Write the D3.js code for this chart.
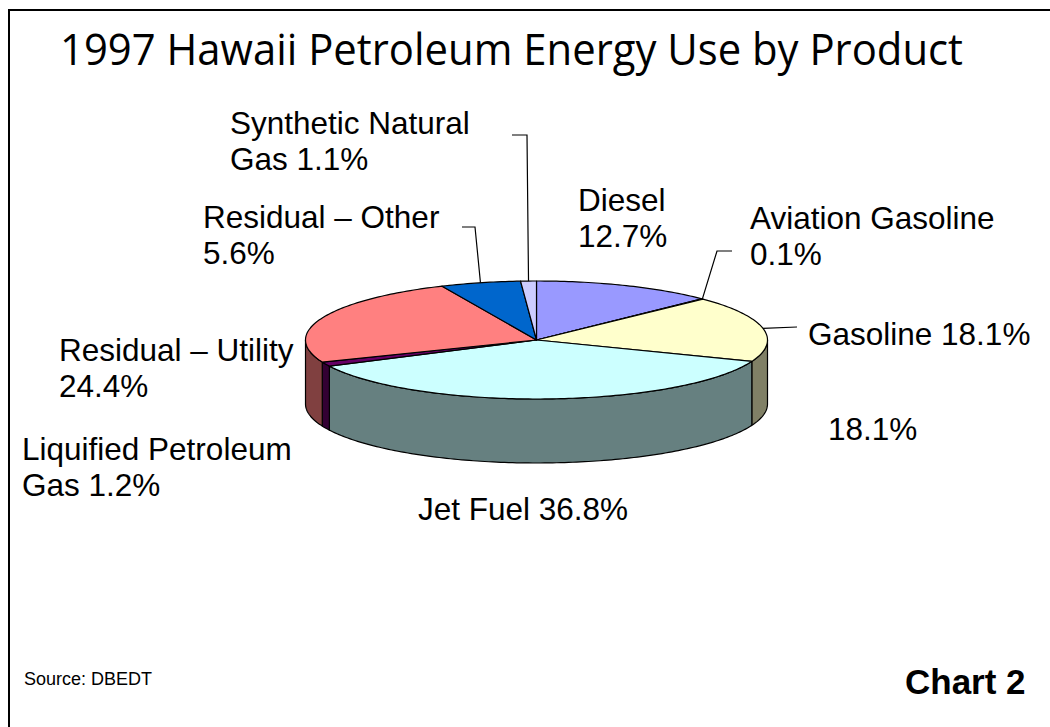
<!DOCTYPE html>
<html>
<head>
<meta charset="utf-8">
<script src="https://cdn.jsdelivr.net/npm/d3@7"></script>
<style>
  body { margin: 0; background: #fff; }
  svg { display: block; }
  .label { font-family: "Liberation Sans", Arial, sans-serif; font-size: 31.5px; fill: #000; }
</style>
</head>
<body>
<svg id="chart"></svg>
<script>
// Products in pie order (clockwise from 12 o'clock) and their shares (%)
const products = ['Diesel', 'Aviation Gasoline', 'Gasoline', 'Jet Fuel',
    'Liquified Petroleum Gas', 'Residual – Utility', 'Residual – Other', 'Synthetic Natural Gas'];
const shares = [12.7, 0.1, 18.1, 36.8, 1.2, 24.4, 5.6, 1.1];
const sliceColors = ['#9999FF', '#993366', '#FFFFCC', '#CCFFFF', '#660066', '#FF8080', '#0066CC', '#CCCCFF'];

// How each label is broken into lines ({v} = the share)
const labelLines = [
    ['Diesel', '{v}'],
    ['Aviation Gasoline', '{v}'],
    ['Gasoline {v}'],
    ['Jet Fuel {v}'],
    ['Liquified Petroleum', 'Gas {v}'],
    ['Residual – Utility', '{v}'],
    ['Residual – Other', '{v}'],
    ['Synthetic Natural', 'Gas {v}']
];

const width = 1050;
const height = 727;

// Label placement (left x, first baseline) and leader-line elbows
const labelPos = [[578, 211], [750, 229], [808, 345], [418, 520], [22, 460], [59, 361], [203, 228], [230, 134]];
const leaderElbows = [null, [[717, 251], [732, 251]], [[797, 327]], null, null, null,
    [[475, 227], [462, 227]], [[527, 135], [512, 135]]];

const svg = d3.select('#chart')
    .attr('width', width)
    .attr('height', height);

// Slide frame (right and bottom edges run off the page)
svg.append('rect')
    .attr('x', 9)
    .attr('y', 10)
    .attr('width', 1100)
    .attr('height', 800)
    .attr('fill', 'none')
    .attr('stroke', '#000')
    .attr('stroke-width', 2);

// Title
svg.append('text')
    .attr('x', 60)
    .attr('y', 65)
    .attr('textLength', 903)
    .attr('lengthAdjust', 'spacingAndGlyphs')
    .style('font-family', '"Comic Sans MS", "Open Sans", sans-serif')
    .style('font-size', '44px')
    .text('1997 Hawaii Petroleum Energy Use by Product');

// Pie geometry: a flattened circle with a wall underneath
const cx = 536.5, cy = 340, rx = 231, ry = 59, depth = 64;
const xScale = d3.scaleLinear().domain([-1, 1]).range([cx - rx, cx + rx]);
const yScale = d3.scaleLinear().domain([-1, 1]).range([cy + ry, cy - ry]);
const rim = (a, dy = 0) => [xScale(Math.sin(a)), yScale(Math.cos(a)) + dy];

const pie = d3.pie().sort(null).value(d => d);
const slices = pie(shares);

// sample the rim between two angles
const rimPoints = (a0, a1, dy = 0) => {
    const n = Math.max(2, Math.ceil(Math.abs(a1 - a0) / (Math.PI / 180)) + 1);
    return d3.range(n).map(i => rim(a0 + (a1 - a0) * i / (n - 1), dy));
};

const line = d3.line();

// Side walls: only the front half (pi/2 .. 3pi/2) shows
const sides = svg.append('g');
slices.forEach((s, i) => {
    const a0 = Math.max(s.startAngle, Math.PI / 2);
    const a1 = Math.min(s.endAngle, 3 * Math.PI / 2);
    if (a1 <= a0) return;
    const c = d3.rgb(sliceColors[i]);
    const pts = rimPoints(a0, a1).concat(rimPoints(a1, a0, depth));
    sides.append('path')
        .attr('d', line(pts) + 'Z')
        .attr('fill', d3.rgb(c.r * 0.5, c.g * 0.5, c.b * 0.5))
        .attr('stroke', '#000')
        .attr('stroke-width', 1.2)
        .attr('stroke-linejoin', 'round');
});

// Top faces
const tops = svg.append('g');
slices.forEach((s, i) => {
    const pts = [[cx, cy]].concat(rimPoints(s.startAngle, s.endAngle));
    tops.append('path')
        .attr('d', line(pts) + 'Z')
        .attr('fill', sliceColors[i])
        .attr('stroke', '#000')
        .attr('stroke-width', 1.2)
        .attr('stroke-linejoin', 'round');
});

// Leader lines from the middle of each slice's rim
const leaders = svg.append('g');
slices.forEach((s, i) => {
    if (!leaderElbows[i]) return;
    const mid = (s.startAngle + s.endAngle) / 2;
    leaders.append('path')
        .attr('d', line([rim(mid)].concat(leaderElbows[i])))
        .attr('fill', 'none')
        .attr('stroke', '#000')
        .attr('stroke-width', 1.2);
});

// Labels
const fmt = v => `${v.toFixed(1)}%`;
const labels = svg.append('g');
labelLines.forEach((lines, i) => {
    const t = labels.append('text')
        .attr('class', 'label')
        .attr('x', labelPos[i][0])
        .attr('y', labelPos[i][1]);
    lines.forEach((l, j) => {
        t.append('tspan')
            .attr('x', labelPos[i][0])
            .attr('dy', j === 0 ? 0 : 35.5)
            .text(l.replace('{v}', fmt(shares[i])));
    });
});

// stray duplicate of the gasoline share on the original slide
labels.append('text')
    .attr('class', 'label')
    .attr('x', 828)
    .attr('y', 440)
    .text(fmt(shares[products.indexOf('Gasoline')]));

// Footer
svg.append('text')
    .attr('x', 24)
    .attr('y', 685)
    .style('font-family', '"Liberation Sans", Arial, sans-serif')
    .style('font-size', '18px')
    .text('Source: DBEDT');

svg.append('text')
    .attr('x', 905)
    .attr('y', 694)
    .style('font-family', '"Liberation Sans", Arial, sans-serif')
    .style('font-size', '35px')
    .style('font-weight', 'bold')
    .text('Chart 2');
</script>
</body>
</html>
